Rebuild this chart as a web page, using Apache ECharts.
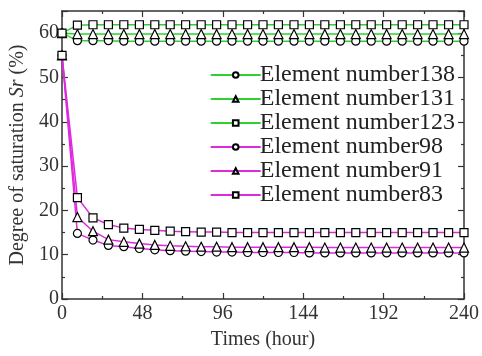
<!DOCTYPE html>
<html>
<head>
<meta charset="utf-8">
<script src="https://cdn.jsdelivr.net/npm/echarts@6/dist/echarts.min.js"></script>
<style>
  html, body { margin: 0; padding: 0; background: #fff; }
  #main { width: 482px; height: 356px; }
</style>
</head>
<body>
<div id="main"></div>
<script>
// sampling times (hour)
var times = [0, 9.2, 18.5, 27.7, 36.9, 46.2, 55.4, 64.6, 73.8, 83.1, 92.3, 101.5, 110.8, 120,
    129.2, 138.5, 147.7, 156.9, 166.2, 175.4, 184.6, 193.8, 203.1, 212.3, 221.5, 230.8, 240];

// degree of saturation Sr (%)
var el138 = [60, 58.3, 58.3, 58.3, 58.2, 58.2, 58.2, 58.2, 58.2, 58.2, 58.2, 58.2, 58.2, 58.2,
    58.2, 58.2, 58.2, 58.2, 58.2, 58.2, 58.2, 58.2, 58.2, 58.2, 58.2, 58.2, 58.2];
var el131 = [60, 59.8, 59.8, 59.8, 59.8, 59.8, 59.8, 59.8, 59.8, 59.8, 59.8, 59.8, 59.8, 59.8,
    59.8, 59.8, 59.8, 59.8, 59.8, 59.8, 59.8, 59.8, 59.8, 59.8, 59.8, 59.8, 59.8];
var el123 = [60, 61.8, 61.9, 61.9, 61.9, 61.9, 61.9, 61.9, 61.9, 61.9, 61.9, 61.9, 61.9, 61.9,
    61.9, 61.9, 61.9, 61.9, 61.9, 61.9, 61.9, 61.9, 61.9, 61.9, 61.9, 61.9, 61.9];
var el98 = [55, 14.8, 13.3, 12.1, 11.8, 11.4, 11.1, 10.9, 10.8, 10.7, 10.6, 10.6, 10.5, 10.5,
    10.5, 10.5, 10.4, 10.4, 10.4, 10.4, 10.4, 10.4, 10.4, 10.4, 10.4, 10.4, 10.4];
var el91 = [55, 18.5, 15.3, 13.4, 12.9, 12.5, 12.2, 12.0, 11.9, 11.8, 11.8, 11.7, 11.7, 11.7,
    11.7, 11.7, 11.7, 11.6, 11.6, 11.6, 11.6, 11.6, 11.6, 11.6, 11.6, 11.6, 11.6];
var el83 = [55, 22.9, 18.3, 16.8, 16.0, 15.7, 15.5, 15.3, 15.2, 15.1, 15.1, 15.0, 15.0, 15.0,
    15.0, 15.0, 15.0, 15.0, 15.0, 15.0, 15.0, 15.0, 15.0, 15.0, 15.0, 15.0, 15.0];

var xTicks = [0, 48, 96, 144, 192, 240];

var dom = document.getElementById('main');
var myChart = echarts.init(dom);

var serif = '"Liberation Serif", "Times New Roman", serif';
var green = '#2fd12f';
var magenta = '#dd2add';

function pairs(arr) {
    return times.map(function (t, i) { return [t, arr[i]]; });
}

function mkSeries(name, arr, color, symbol) {
    return {
        name: name,
        type: 'line',
        data: pairs(arr),
        symbol: symbol,
        symbolSize: symbol === 'triangle' ? 9 : 8,
        showAllSymbol: true,
        lineStyle: { color: color, width: 1.5 },
        itemStyle: { color: '#fff', borderColor: '#000', borderWidth: 1.2 },
        emphasis: { disabled: true },
        z: 3
    };
}

var axisCommon = {
    axisLine: { show: true, onZero: false, lineStyle: { color: '#333', width: 1.5 } },
    axisTick: { show: true, inside: true, length: 6, lineStyle: { color: '#333', width: 1.2 } },
    minorTick: { show: true, splitNumber: 2, length: 3, lineStyle: { color: '#333', width: 1.2 } },
    splitLine: { show: false }
};

var option = {
    animation: false,
    grid: { left: 62, right: 17, top: 11, bottom: 57 },
    legend: {
        orient: 'vertical',
        right: 22,
        top: 58,
        itemGap: 0,
        itemWidth: 50,
        itemHeight: 7,
        textStyle: { fontFamily: serif, fontSize: 24, lineHeight: 24, color: '#222', padding: [0, 0, 0, -6] },
        data: ['Element number138', 'Element number131', 'Element number123',
            'Element number98', 'Element number91', 'Element number83']
    },
    xAxis: [
        Object.assign({}, axisCommon, {
            type: 'value', min: 0, max: 240, interval: 48,
            name: 'Times (hour)', nameLocation: 'middle', nameGap: 31,
            nameTextStyle: { fontFamily: serif, fontSize: 20, color: '#333' },
            axisLabel: { fontFamily: serif, fontSize: 20, color: '#333', margin: 5,
                formatter: function (v) { return xTicks.indexOf(v) >= 0 ? String(v) : ''; } }
        }),
        Object.assign({}, axisCommon, {
            type: 'value', min: 0, max: 240, interval: 48, position: 'top',
            axisLabel: { show: false }
        })
    ],
    yAxis: [
        Object.assign({}, axisCommon, {
            type: 'value', min: 0, max: 65, interval: 10,
            name: '{n|Degree of saturation }{i|Sr}{n| (%)}', nameLocation: 'middle', nameGap: 33,
            nameTextStyle: {
                rich: {
                    n: { fontFamily: serif, fontSize: 20, color: '#333' },
                    i: { fontFamily: serif, fontSize: 20, color: '#333', fontStyle: 'italic' }
                }
            },
            axisLabel: { fontFamily: serif, fontSize: 20, color: '#333', margin: 3,
                formatter: function (v) { return v % 10 === 0 ? String(v) : ''; } }
        }),
        Object.assign({}, axisCommon, {
            type: 'value', min: 0, max: 65, interval: 10, position: 'right',
            axisLabel: { show: false }
        })
    ],
    series: [
        mkSeries('Element number138', el138, green, 'circle'),
        mkSeries('Element number131', el131, green, 'triangle'),
        mkSeries('Element number123', el123, green, 'rect'),
        mkSeries('Element number98', el98, magenta, 'circle'),
        mkSeries('Element number91', el91, magenta, 'triangle'),
        mkSeries('Element number83', el83, magenta, 'rect')
    ]
};

if (option && typeof option === 'object') {
    myChart.setOption(option);
}
</script>
</body>
</html>
